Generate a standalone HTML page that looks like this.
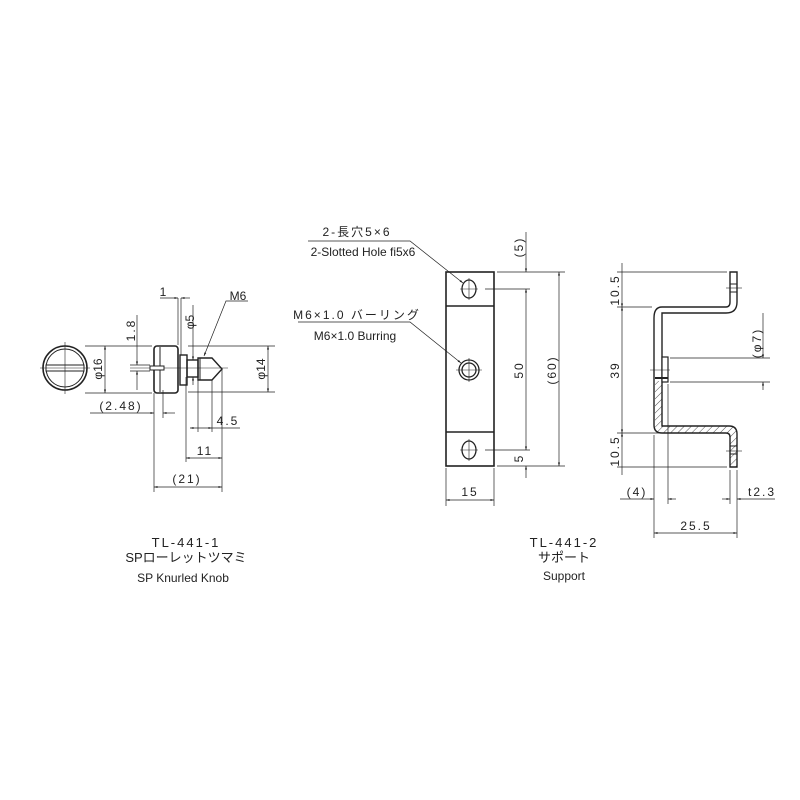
<!DOCTYPE html>
<html><head><meta charset="utf-8"><style>body{margin:0;background:#fff}svg{display:block}text{font-family:"Liberation Sans","Noto Sans CJK JP",sans-serif;fill:#222}</style></head><body>
<svg width="800" height="800" viewBox="0 0 800 800" xmlns="http://www.w3.org/2000/svg">
<defs>
<marker id="a" viewBox="0 0 10 10" refX="10" refY="5" markerWidth="7" markerHeight="5" orient="auto-start-reverse"><path d="M0,2 L10,5 L0,8z" fill="#222"/></marker>
<pattern id="h" width="5" height="5" patternUnits="userSpaceOnUse" patternTransform="rotate(45)"><line x1="0" y1="0" x2="0" y2="5" stroke="#222" stroke-width="0.8"/></pattern>
</defs>
<g stroke="#222" fill="none" stroke-width="1">
<circle cx="65" cy="368" r="22" stroke-width="1.6"/><circle cx="65" cy="368" r="19"/>
<rect x="46" y="365" width="38" height="6" fill="#fff"/>
<line x1="65" y1="342" x2="65" y2="394" stroke-width="0.6"/><line x1="40" y1="368" x2="90" y2="368" stroke-width="0.6"/>
<rect x="154" y="346" width="24" height="47" rx="3" stroke-width="1.6"/>
<line x1="160" y1="347" x2="160" y2="392"/>
<rect x="180" y="355" width="7" height="30" stroke-width="1.4"/>
<rect x="187" y="360" width="11" height="17" stroke-width="1.4"/>
<path d="M198,358 H212 L222,369 L212,380 H198 Z" stroke-width="1.4"/>
<line x1="200" y1="358" x2="200" y2="380"/>
<line x1="130" y1="368" x2="228" y2="368" stroke-width="0.6"/>
<rect x="150" y="366" width="14" height="4" fill="#fff"/>
<g stroke-width="0.7">
<line x1="85" y1="346" x2="152" y2="346"/><line x1="85" y1="393" x2="152" y2="393"/>
<line x1="105" y1="346" x2="105" y2="393" marker-start="url(#a)" marker-end="url(#a)"/>
<line x1="137" y1="315" x2="137" y2="365" marker-end="url(#a)"/><line x1="137" y1="390" x2="137" y2="371" marker-end="url(#a)"/>
<line x1="130" y1="365" x2="150" y2="365"/><line x1="130" y1="371" x2="150" y2="371"/>
<line x1="90" y1="413" x2="154" y2="413" marker-end="url(#a)"/><line x1="175" y1="413" x2="163" y2="413" marker-end="url(#a)"/>
<line x1="154" y1="393" x2="154" y2="492"/><line x1="163" y1="390" x2="163" y2="418"/>
<line x1="178" y1="298" x2="178" y2="345"/><line x1="181" y1="298" x2="181" y2="355"/>
<line x1="160" y1="298" x2="178" y2="298" marker-end="url(#a)"/><line x1="190" y1="298" x2="181" y2="298" marker-end="url(#a)"/>
<line x1="193" y1="305" x2="193" y2="360" marker-end="url(#a)"/><line x1="193" y1="385" x2="193" y2="377" marker-end="url(#a)"/>
<line x1="186" y1="377" x2="186" y2="462"/><line x1="198" y1="380" x2="198" y2="432"/><line x1="212" y1="380" x2="212" y2="432"/><line x1="222" y1="369" x2="222" y2="492"/>
<line x1="190" y1="428" x2="212" y2="428" marker-start="url(#a)" marker-end="url(#a)"/><line x1="212" y1="428" x2="240" y2="428"/>
<line x1="186" y1="458" x2="222" y2="458" marker-start="url(#a)" marker-end="url(#a)"/>
<line x1="154" y1="487" x2="222" y2="487" marker-start="url(#a)" marker-end="url(#a)"/>
<line x1="188" y1="346" x2="275" y2="346"/><line x1="188" y1="392" x2="275" y2="392"/>
<line x1="268" y1="346" x2="268" y2="392" marker-start="url(#a)" marker-end="url(#a)"/>
<polyline points="248,301 226,301 204,356" marker-end="url(#a)"/>
</g>
<rect x="446" y="272" width="48" height="194" stroke-width="1.6"/>
<line x1="446" y1="306" x2="494" y2="306" stroke-width="1.4"/><line x1="446" y1="432" x2="494" y2="432" stroke-width="1.4"/>
<ellipse cx="469" cy="289" rx="7" ry="9" stroke-width="1.3"/><ellipse cx="469" cy="450" rx="7" ry="9" stroke-width="1.3"/>
<circle cx="469" cy="370" r="10" stroke-width="1.3"/><circle cx="469" cy="370" r="7" stroke-width="1.3"/>
<g stroke-width="0.6"><line x1="469" y1="278" x2="469" y2="300"/><line x1="460" y1="289" x2="478" y2="289"/><line x1="469" y1="439" x2="469" y2="461"/><line x1="460" y1="450" x2="478" y2="450"/><line x1="469" y1="358" x2="469" y2="382"/><line x1="456" y1="370" x2="482" y2="370"/></g>
<g stroke-width="0.7">
<line x1="497" y1="272" x2="565" y2="272"/><line x1="485" y1="289" x2="530" y2="289"/><line x1="485" y1="450" x2="530" y2="450"/><line x1="497" y1="466" x2="565" y2="466"/>
<line x1="526" y1="232" x2="526" y2="272" marker-end="url(#a)"/><line x1="526" y1="289" x2="526" y2="450" marker-start="url(#a)" marker-end="url(#a)"/><line x1="526" y1="478" x2="526" y2="466" marker-end="url(#a)"/>
<line x1="559" y1="272" x2="559" y2="466" marker-start="url(#a)" marker-end="url(#a)"/>
<line x1="446" y1="468" x2="446" y2="506"/><line x1="494" y1="468" x2="494" y2="506"/>
<line x1="446" y1="500" x2="494" y2="500" marker-start="url(#a)" marker-end="url(#a)"/>
<polyline points="308,241 410,241 463,283" marker-end="url(#a)"/>
<polyline points="298,322 410,322 461,363" marker-end="url(#a)"/>
</g>
<path d="M730,272 H737 V302 Q737,313 726,313 H662 V426 H729 Q737,426 737,434 V467 H730 V437 Q730,433 726,433 H662 Q654,433 654,425 V318 Q654,307 662,307 H726 Q730,307 730,302 Z" stroke-width="1.4"/>
<path d="M655,381 H662 V426 H729 Q737,426 737,434 V467 H730 V437 Q730,433 726,433 H662 Q655,433 655,425 Z" fill="url(#h)" stroke="none"/>
<rect x="662" y="357" width="6" height="25" fill="#fff" stroke-width="1.2"/>
<line x1="655" y1="378" x2="668" y2="378" stroke-width="2"/>
<line x1="730" y1="284" x2="737" y2="284"/><line x1="730" y1="292" x2="737" y2="292"/>
<line x1="730" y1="446" x2="737" y2="446"/><line x1="730" y1="454" x2="737" y2="454"/>
<g stroke-width="0.6"><line x1="726" y1="288" x2="742" y2="288"/><line x1="726" y1="451" x2="742" y2="451"/><line x1="650" y1="370" x2="670" y2="370"/></g>
<g stroke-width="0.7">
<line x1="617" y1="272" x2="727" y2="272"/><line x1="617" y1="307" x2="652" y2="307"/><line x1="617" y1="433" x2="727" y2="433"/><line x1="617" y1="467" x2="727" y2="467"/>
<line x1="622" y1="263" x2="622" y2="307" marker-end="url(#a)"/><line x1="622" y1="307" x2="622" y2="433" marker-start="url(#a)" marker-end="url(#a)"/><line x1="622" y1="433" x2="622" y2="475" marker-start="url(#a)"/>
<line x1="670" y1="358" x2="770" y2="358"/><line x1="670" y1="382" x2="770" y2="382"/>
<line x1="763" y1="313" x2="763" y2="358" marker-end="url(#a)"/><line x1="763" y1="390" x2="763" y2="382" marker-end="url(#a)"/>
<line x1="654" y1="435" x2="654" y2="538"/><line x1="668" y1="384" x2="668" y2="504"/><line x1="730" y1="470" x2="730" y2="504"/><line x1="737" y1="470" x2="737" y2="538"/>
<line x1="620" y1="499" x2="654" y2="499" marker-end="url(#a)"/><line x1="676" y1="499" x2="668" y2="499" marker-end="url(#a)"/>
<line x1="722" y1="499" x2="730" y2="499" marker-end="url(#a)"/><line x1="775" y1="499" x2="737" y2="499" marker-end="url(#a)"/>
<line x1="654" y1="533" x2="737" y2="533" marker-start="url(#a)" marker-end="url(#a)"/>
</g>
</g>
<g font-size="12" text-anchor="middle" letter-spacing="2">
<text x="164" y="296">1</text>
<text x="238" y="300" letter-spacing="0">M6</text>
<text transform="translate(135,330) rotate(-90)">1.8</text>
<text transform="translate(194,322) rotate(-90)" letter-spacing="0">φ5</text>
<text transform="translate(102,369) rotate(-90)" letter-spacing="0">φ16</text>
<text transform="translate(265,369) rotate(-90)" letter-spacing="0">φ14</text>
<text x="121" y="410">(2.48)</text>
<text x="228" y="425">4.5</text>
<text x="205" y="455">11</text>
<text x="187" y="483">(21)</text>
<text x="357" y="236">2-長穴5×6</text>
<text x="357" y="319">M6×1.0 バーリング</text>
<text transform="translate(523,247) rotate(-90)">(5)</text>
<text transform="translate(523,370) rotate(-90)">50</text>
<text transform="translate(523,458) rotate(-90)">5</text>
<text transform="translate(556,370) rotate(-90)">(60)</text>
<text x="470" y="496">15</text>
<text transform="translate(619,290) rotate(-90)">10.5</text>
<text transform="translate(619,370) rotate(-90)">39</text>
<text transform="translate(619,451) rotate(-90)">10.5</text>
<text transform="translate(761,343) rotate(-90)">(φ7)</text>
<text x="637" y="496">(4)</text>
<text x="762" y="496">t2.3</text>
<text x="696" y="530">25.5</text>
<text x="186" y="547" font-size="13">TL-441-1</text>
<text x="186" y="562" font-size="13" letter-spacing="0">SPローレットツマミ</text>
<text x="564" y="547" font-size="13">TL-441-2</text>
<text x="564" y="562" font-size="13" letter-spacing="0">サポート</text>
</g>
<g font-size="12" text-anchor="middle">
<text x="363" y="256">2-Slotted Hole fi5x6</text>
<text x="355" y="340">M6×1.0 Burring</text>
<text x="183" y="582">SP Knurled Knob</text>
<text x="564" y="580">Support</text>
</g>
</svg>
</body></html>
